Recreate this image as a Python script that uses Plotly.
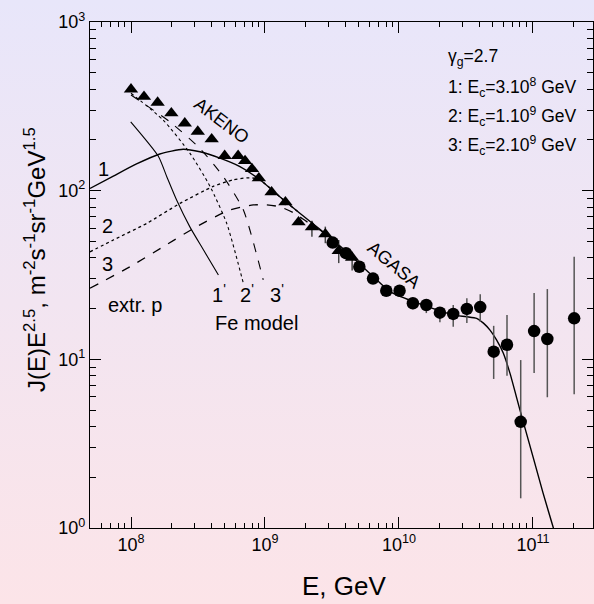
import base64
import plotly.graph_objects as go

# ---------------- data ----------------
akeno_E = [1.0e8, 1.25e8, 1.58e8, 2.0e8, 2.52e8, 3.15e8, 4.0e8, 5.0e8, 6.3e8, 7.1e8,
           8.0e8, 9.0e8, 1.12e9, 1.42e9, 1.78e9, 2.24e9, 2.82e9, 3.55e9, 4.47e9]
akeno_J = [399, 361, 333, 288, 251, 224, 202, 161, 161, 150,
           134.5, 118.6, 98, 85.4, 65, 60.7, 55.2, 44, 40.1]
akeno_hi = [399, 361, 333, 288, 251, 224, 202, 161, 161, 155,
            134.5, 118.6, 98, 89, 65, 66.4, 61.2, 51, 43.5]
akeno_lo = [399, 361, 333, 288, 251, 224, 202, 161, 161, 145,
            134.5, 118.6, 98, 82, 65, 53.3, 48.8, 37.2, 33.6]

agasa_E = [3.2e9, 4.02e9, 5.06e9, 6.4e9, 8.04e9, 1.01e10, 1.27e10, 1.6e10, 2.02e10,
           2.54e10, 3.21e10, 4.04e10, 5.09e10, 6.4e10, 8.1e10, 1.02e11, 1.28e11, 2.03e11]
agasa_J = [49.2, 42.6, 35.4, 30.1, 25.5, 25.5, 21.5, 21.0, 18.9,
           18.6, 19.9, 20.4, 11.1, 12.2, 4.26, 14.7, 13.2, 17.5]
agasa_hi = [51, 44.5, 37, 31.5, 26.8, 26.8, 23.0, 22.5, 20.1,
            21.0, 23.0, 24.3, 15.8, 18.3, 9.9, 24.7, 26.1, 40.6]
agasa_lo = [47.5, 40.8, 33.8, 28.8, 24.3, 24.3, 19.8, 18.8, 16.6,
            15.6, 16.4, 16.7, 7.65, 8.0, 1.5, 8.3, 5.96, 6.2]

# model curve 1 (solid, continues as the total spectrum)
c1_E = [4.94e7, 7.38e7, 1.10e8, 1.64e8, 2.45e8, 3.27e8, 4.61e8, 6.50e8, 9.18e8, 1.29e9,
        1.82e9, 2.57e9, 4.07e9, 6.43e9, 8.57e9, 1.28e10, 2.02e10, 2.54e10, 3.20e10, 3.80e10,
        4.27e10, 4.78e10, 5.36e10, 6.0e10, 6.73e10, 8.0e10, 1.0e11, 1.19e11, 1.42e11, 1.51e11]
c1_J = [103, 122, 144, 165, 176, 170, 156, 139, 116, 92,
        73.4, 59, 43.4, 30.9, 25.2, 22.0, 19.4, 18.3, 17.9, 17.5,
        16.4, 14.9, 13.0, 10.9, 8.28, 5.0, 2.65, 1.61, 1.0, 0.85]
# model curve 2 (dotted)
c2_E = [4.94e7, 7.38e7, 1.31e8, 2.32e8, 4.11e8, 5.79e8, 7.29e8, 8.67e8, 1.0e9, 1.29e9, 1.82e9]
c2_J = [43.4, 51, 64, 84, 106, 116, 119, 118, 110, 92, 73.4]
# model curve 3 (dashed)
c3_E = [4.94e7, 9.84e7, 1.74e8, 3.09e8, 5.48e8, 8.18e8, 1.03e9, 1.29e9, 1.63e9, 2.05e9, 2.57e9, 4.07e9]
c3_J = [26.4, 35.4, 46.5, 61.2, 76.9, 82.3, 82.3, 80.3, 74, 65.5, 58.5, 43.4]

# Fe model curves 1', 2', 3'
fe1_E = [9.95e7, 1.60e8, 1.85e8, 2.19e8, 2.75e8, 3.47e8, 4.49e8]
fe1_J = [256, 160, 121, 88, 61, 44.6, 31.6]
fe2_E = [1.0e8, 1.74e8, 2.75e8, 3.89e8, 5.18e8, 6.89e8]
fe2_J = [378, 262, 167, 106, 64, 28.3]
fe3_E = [1.0e8, 1.95e8, 3.27e8, 4.89e8, 6.89e8, 9.7e8]
fe3_J = [369, 256, 178, 121, 77, 29.6]

x_tickvals = [1e8, 1e9, 1e10, 1e11]
x_ticktext = ["10<sup>8</sup>", "10<sup>9</sup>", "10<sup>10</sup>", "10<sup>11</sup>"]
y_tickvals = [1, 10, 100, 1000]
y_ticktext = ["10<sup>0</sup>", "10<sup>1</sup>", "10<sup>2</sup>", "10<sup>3</sup>"]

# ---------------- figure ----------------
FONT = "Liberation Sans, Arial, Helvetica, sans-serif"
W, H = 594, 604
ML, MR, MT, MB = 90, 1, 22, 76
PW = W - ML - MR
PH = H - MT - MB
XR = [7.694, 11.448]
YR = [0, 3]

fig = go.Figure()

def line(x, y, dash, width=1.3):
    fig.add_trace(go.Scatter(x=x, y=y, mode="lines",
                             line=dict(color="black", width=width, dash=dash,
                                       shape="spline", smoothing=0.6),
                             hoverinfo="skip", showlegend=False))

line(fe1_E, fe1_J, "solid", 1.1)
line(fe2_E, fe2_J, "dot", 1.1)
line(fe3_E, fe3_J, "dash", 1.1)
line(c2_E, c2_J, "dot", 1.3)
line(c3_E, c3_J, "dash", 1.3)
line(c1_E, c1_J, "solid", 1.4)

fig.add_trace(go.Scatter(
    x=akeno_E, y=akeno_J, mode="markers",
    marker=dict(symbol="triangle-up", size=12.5, color="black"),
    error_y=dict(type="data", symmetric=False,
                 array=[h - v for h, v in zip(akeno_hi, akeno_J)],
                 arrayminus=[v - l for l, v in zip(akeno_lo, akeno_J)],
                 color="#444", thickness=1.5, width=0),
    showlegend=False))
# AGASA drawn on the overlay axes (identical ranges) so that subplot exists
fig.add_trace(go.Scatter(
    x=agasa_E, y=agasa_J, mode="markers", xaxis="x2", yaxis="y2",
    marker=dict(symbol="circle", size=12.5, color="black"),
    error_y=dict(type="data", symmetric=False,
                 array=[h - v for h, v in zip(agasa_hi, agasa_J)],
                 arrayminus=[v - l for l, v in zip(agasa_lo, agasa_J)],
                 color="#555", thickness=1.5, width=0),
    showlegend=False))

# gradient background as one stretched SVG image
svg = ("<svg xmlns='http://www.w3.org/2000/svg' width='10' height='100' "
       "preserveAspectRatio='none' viewBox='0 0 10 100'>"
       "<defs><linearGradient id='g' x1='0' y1='0' x2='0' y2='1'>"
       "<stop offset='0' stop-color='rgb(232,230,250)'/>"
       "<stop offset='1' stop-color='rgb(252,228,232)'/>"
       "</linearGradient></defs>"
       "<rect x='0' y='0' width='10' height='100' fill='url(#g)'/></svg>")
bg_src = "data:image/svg+xml;base64," + base64.b64encode(svg.encode()).decode()

minor_x = [k * 10 ** n for n in range(7, 12) for k in range(2, 10)]
minor_y = [k * 10 ** n for n in range(0, 3) for k in range(2, 10)]

# main axes: every tick position (short ticks), labels only at decades
all_x = x_tickvals + minor_x
all_x_text = x_ticktext + [""] * len(minor_x)
all_y = y_tickvals + minor_y
all_y_text = y_ticktext + [""] * len(minor_y)

tickfont = dict(family=FONT, size=18, color="black")

fig.update_layout(
    xaxis=dict(type="log", range=XR, showline=True, linecolor="black", linewidth=1.3,
               mirror="allticks", ticks="inside", ticklen=5, tickwidth=1.2,
               tickcolor="black", tickvals=all_x, ticktext=all_x_text,
               tickfont=tickfont, showgrid=False, zeroline=False),
    yaxis=dict(type="log", range=YR, showline=True, linecolor="black", linewidth=1.3,
               mirror="allticks", ticks="inside", ticklen=6, tickwidth=1.2,
               tickcolor="black", tickvals=all_y, ticktext=all_y_text,
               tickfont=tickfont, showgrid=False, zeroline=False),
    # overlay axes carrying the long decade ticks
    xaxis2=dict(type="log", range=XR, overlaying="x", anchor="y2", side="bottom",
                showline=False, mirror="allticks", ticks="inside", ticklen=11,
                tickwidth=1.4, tickcolor="black", tickvals=x_tickvals,
                showticklabels=False, showgrid=False, zeroline=False),
    yaxis2=dict(type="log", range=YR, overlaying="y", anchor="x2", side="left",
                showline=False, mirror="allticks", ticks="inside", ticklen=11,
                tickwidth=1.4, tickcolor="black", tickvals=y_tickvals,
                showticklabels=False, showgrid=False, zeroline=False),
)

def pxx(px):
    return 8 + (px - 131) / 134.0

def pxy(py):
    return 3 - (py - 22) / 168.7

ann = []
def add_text(txt, px, py, size, anchor="center", angle=0):
    ann.append(dict(x=pxx(px), y=pxy(py), xref="x", yref="y", text=txt,
                    showarrow=False, xanchor=anchor, yanchor="middle",
                    textangle=angle,
                    font=dict(family=FONT, size=size, color="black")))

add_text("γ<sub>g</sub>=2.7", 446, 58, 17.5, "left")
add_text("1: E<sub>c</sub>=3.10<sup>8</sup> GeV", 446, 88, 17.5, "left")
add_text("2: E<sub>c</sub>=1.10<sup>9</sup> GeV", 446, 117, 17.5, "left")
add_text("3: E<sub>c</sub>=2.10<sup>9</sup> GeV", 446, 146, 17.5, "left")
add_text("AKENO", 222, 121, 18, angle=37)
add_text("AGASA", 394, 265, 18, angle=40)
add_text("1", 103, 169, 20)
add_text("2", 107, 226, 20)
add_text("3", 107, 264, 20)
add_text("extr. p", 135, 305, 20)
add_text("1<sup>'</sup>", 219, 294, 20)
add_text("2<sup>'</sup>", 247, 294, 20)
add_text("3<sup>'</sup>", 277, 294, 20)
add_text("Fe model", 257, 323, 20)

ann.append(dict(x=(344 - ML) / PW, y=-(586 - (H - MB)) / PH,
                xref="paper", yref="paper", text="E, GeV", showarrow=False,
                xanchor="center", yanchor="middle",
                font=dict(family=FONT, size=26, color="black")))
ann.append(dict(x=(35 - ML) / PW, y=((H - MB) - 260) / PH,
                xref="paper", yref="paper",
                text="J(E)E<sup>2.5</sup>, m<sup>-2</sup>s<sup>-1</sup>sr<sup>-1</sup>GeV<sup>1.5</sup>",
                showarrow=False, textangle=-90,
                xanchor="center", yanchor="middle",
                font=dict(family=FONT, size=24, color="black")))

fig.update_layout(width=W, height=H,
                  margin=dict(l=ML, r=MR, t=MT, b=MB),
                  paper_bgcolor="rgb(242,229,241)",
                  plot_bgcolor="rgba(0,0,0,0)",
                  images=[dict(source=bg_src, xref="paper", yref="paper",
                               x=-ML / PW, y=1 + MT / PH,
                               sizex=W / PW, sizey=H / PH,
                               xanchor="left", yanchor="top",
                               sizing="stretch", layer="below")],
                  annotations=ann,
                  showlegend=False)

fig.write_html("out.html",
               config={"displayModeBar": False},
               post_script="document.body.style.margin='0';document.body.style.padding='0';document.body.style.overflow='hidden';")
